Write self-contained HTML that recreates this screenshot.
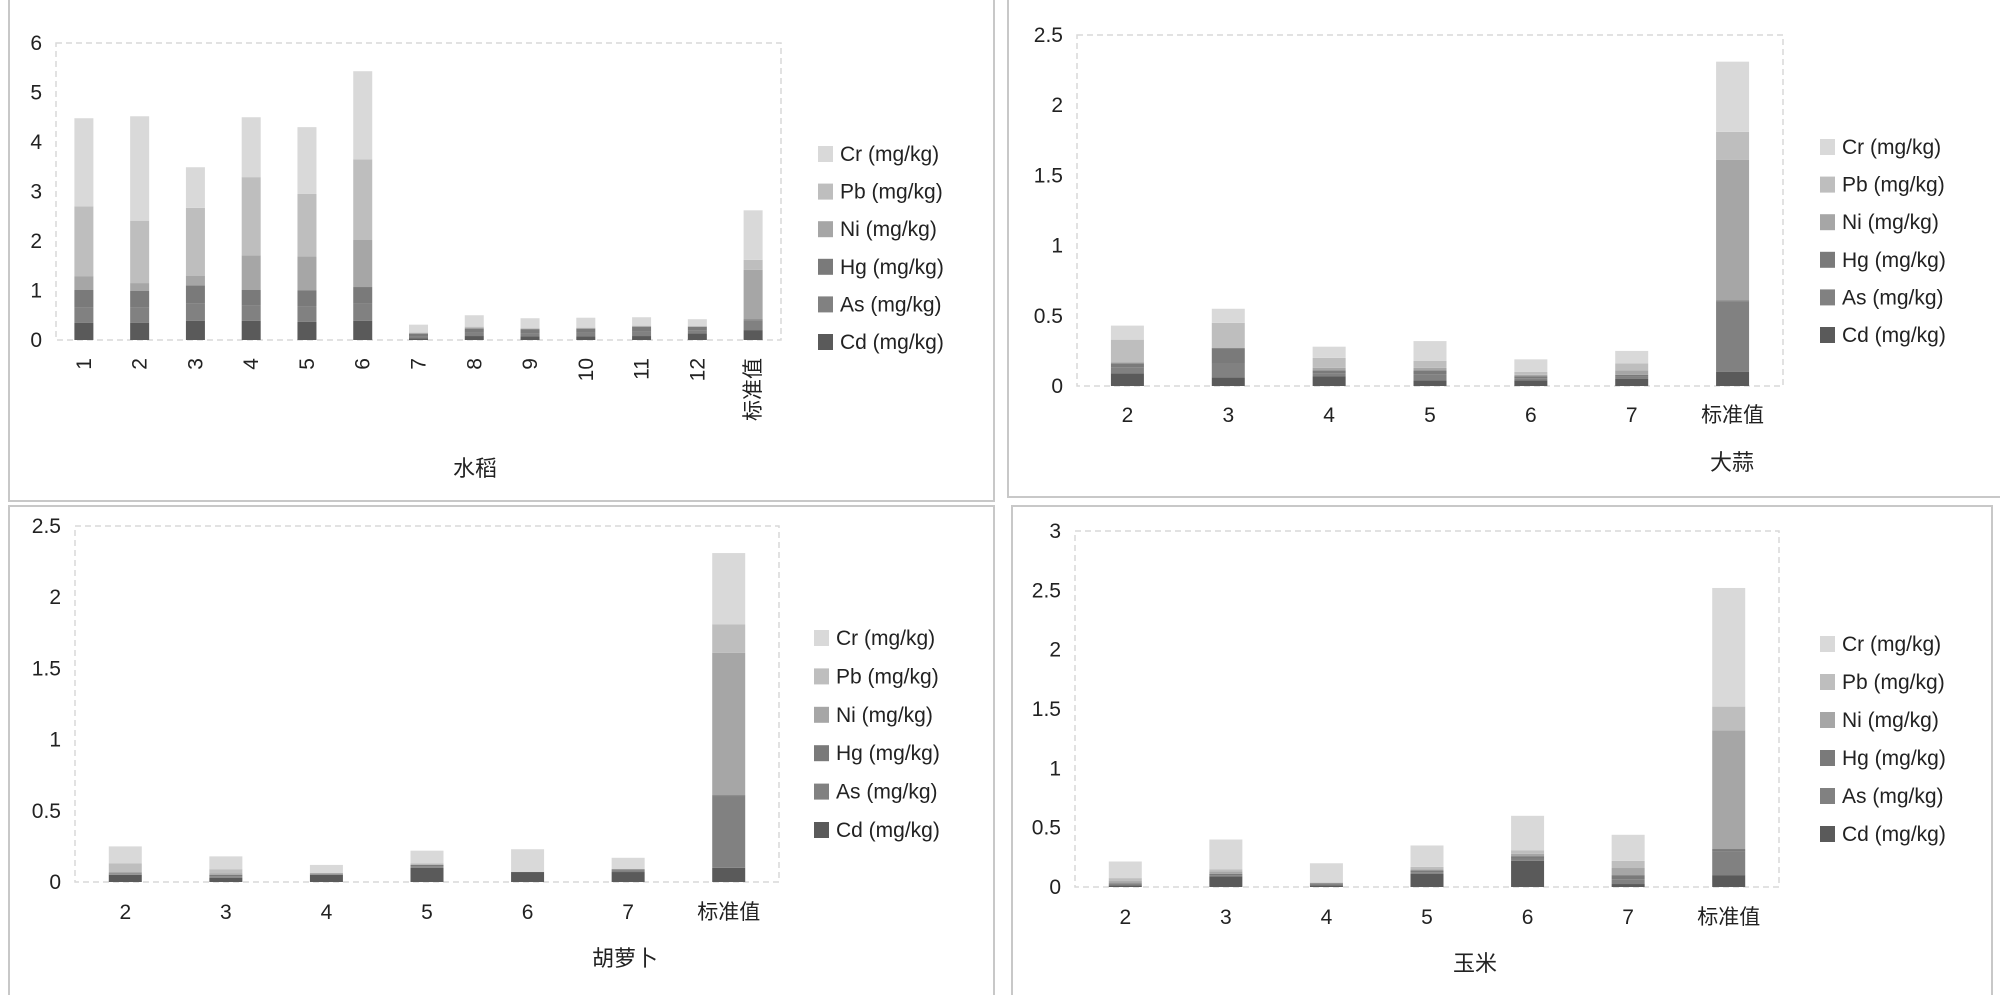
<!DOCTYPE html>
<html><head><meta charset="utf-8">
<style>
html,body{margin:0;padding:0;background:#fff;}
svg{display:block;font-family:"Liberation Sans","Noto Sans CJK SC",sans-serif;}
</style></head>
<body>
<svg id="chart" width="2000" height="995" viewBox="0 0 2000 995" xmlns="http://www.w3.org/2000/svg">
<rect x="0" y="0" width="2000" height="995" fill="#fff"/>
<rect x="9" y="-2" width="985" height="503" fill="none" stroke="#c8c8c8" stroke-width="2"/>
<rect x="1008" y="-2" width="1000" height="499" fill="none" stroke="#c8c8c8" stroke-width="2"/>
<rect x="9" y="506" width="985" height="495" fill="none" stroke="#c8c8c8" stroke-width="2"/>
<rect x="1012" y="506" width="980" height="495" fill="none" stroke="#c8c8c8" stroke-width="2"/>
</svg>
<script>
const seriesNames = ["Cd (mg/kg)","As (mg/kg)","Hg (mg/kg)","Ni (mg/kg)","Pb (mg/kg)","Cr (mg/kg)"];
const seriesColors = ["#5a5a5a","#818181","#7a7a7a","#a6a6a6","#bebebe","#d9d9d9"];

const riceCats = ["1","2","3","4","5","6","7","8","9","10","11","12","标准值"];
const riceCd = [0.35,0.35,0.39,0.39,0.37,0.39,0.03,0.08,0.07,0.07,0.08,0.13,0.2];
const riceAs = [0.30,0.30,0.35,0.30,0.30,0.34,0.05,0.07,0.07,0.08,0.09,0.07,0.2];
const riceHg = [0.36,0.34,0.36,0.32,0.33,0.34,0.05,0.08,0.08,0.08,0.10,0.07,0.02];
const riceNi = [0.28,0.16,0.20,0.70,0.69,0.95,0.00,0.02,0.01,0.01,0.01,0.00,1.0];
const ricePb = [1.41,1.26,1.37,1.58,1.26,1.63,0.02,0.02,0.01,0.01,0.01,0.01,0.2];
const riceCr = [1.78,2.11,0.82,1.21,1.35,1.78,0.16,0.23,0.20,0.20,0.17,0.14,1.0];
const riceTicks = [0,1,2,3,4,5,6];

const garlicCats = ["2","3","4","5","6","7","标准值"];
const garlicCd = [0.09,0.06,0.07,0.04,0.04,0.05,0.1];
const garlicAs = [0.04,0.10,0.02,0.04,0.015,0.015,0.5];
const garlicHg = [0.03,0.11,0.02,0.03,0.015,0.015,0.01];
const garlicNi = [0.01,0.00,0.02,0.02,0.01,0.03,1.0];
const garlicPb = [0.16,0.18,0.07,0.05,0.02,0.05,0.2];
const garlicCr = [0.10,0.10,0.08,0.14,0.09,0.09,0.5];
const garlicTicks = [0,0.5,1,1.5,2,2.5];

const carrotCats = ["2","3","4","5","6","7","标准值"];
const carrotCd = [0.05,0.03,0.05,0.10,0.07,0.07,0.1];
const carrotAs = [0.005,0.01,0.005,0.01,0.0,0.01,0.5];
const carrotHg = [0.005,0.01,0.005,0.01,0.0,0.01,0.01];
const carrotNi = [0.01,0.01,0.0,0.005,0.0,0.0,1.0];
const carrotPb = [0.06,0.03,0.0,0.005,0.0,0.0,0.2];
const carrotCr = [0.12,0.09,0.06,0.09,0.16,0.08,0.5];
const carrotTicks = [0,0.5,1,1.5,2,2.5];

const cornCats = ["2","3","4","5","6","7","标准值"];
const cornCd = [0.015,0.09,0.015,0.11,0.22,0.025,0.1];
const cornAs = [0.01,0.01,0.01,0.015,0.02,0.04,0.2];
const cornHg = [0.005,0.01,0.005,0.015,0.02,0.035,0.02];
const cornNi = [0.02,0.02,0.005,0.01,0.02,0.06,1.0];
const cornPb = [0.025,0.02,0.005,0.02,0.03,0.06,0.2];
const cornCr = [0.14,0.25,0.16,0.18,0.29,0.22,1.0];
const cornTicks = [0,0.5,1,1.5,2,2.5,3];

const svg = document.getElementById('chart');
const NS = "http://www.w3.org/2000/svg";
function mk(tag, attrs, parent){
  const e = document.createElementNS(NS, tag);
  for (const k in attrs) e.setAttribute(k, attrs[k]);
  (parent||svg).appendChild(e);
  return e;
}

function drawPanel(cfg){
  const g = mk('g', {});
  
  
  const yMax = cfg.ticks[cfg.ticks.length-1];
  const yS = v => cfg.zero - (cfg.zero - cfg.top) * v / yMax;
  const n = cfg.cats.length;
  const step = (cfg.right - cfg.left) / n;
  const xS = i => cfg.left + step * (i + 0.5);
  const frame = mk('rect', {x:cfg.left, y:cfg.top, width:cfg.right-cfg.left, height:cfg.zero-cfg.top, fill:'none', stroke:'#d9d9d9', 'stroke-width':1.5, 'stroke-dasharray':'6,4'}, g);
  
  
  cfg.ticks.forEach(t => {
    const tx = mk('text', {x:cfg.left-14, y:yS(t)+7, 'text-anchor':'end', 'font-size':21, fill:'#222'}, g);
    tx.textContent = String(t);
    
    
  });
  cfg.cats.forEach((c, i) => {
    let acc = 0;
    cfg.series.forEach((arr, s) => {
      const v = arr[i];
      const y0 = yS(acc), y1 = yS(acc + v);
      acc += v;
      if (v <= 0) return;
      const r = mk('rect', {x:xS(i)-cfg.bw/2, y:y1, width:cfg.bw, height:Math.max(0,y0-y1), fill:seriesColors[s]}, g);
      
      
    });
    let tl;
    if (cfg.rotate){
      tl = mk('text', {x:0, y:0, 'text-anchor':'end', 'font-size':21, fill:'#222', transform:`translate(${xS(i)+7},${cfg.labelY}) rotate(-90)`}, g);
    } else {
      tl = mk('text', {x:xS(i), y:cfg.labelY, 'text-anchor':'middle', 'font-size':21, fill:'#222'}, g);
    }
    tl.textContent = c;
    
    
  });
  const tt = mk('text', {x:cfg.titleX, y:cfg.titleY+8, 'text-anchor':'middle', 'font-size':22, fill:'#222'}, g);
  tt.textContent = cfg.title;
  
  
  for (let s = 5; s >= 0; s--){
    const row = 5 - s;
    const ly = cfg.legY + row * cfg.legStep;
    const sw = mk('rect', {x:cfg.legX, y:ly-8, width:15, height:16, fill:seriesColors[s]}, g);
    
    
    const lt = mk('text', {x:cfg.legX+22, y:ly+7, 'font-size':21, fill:'#222'}, g);
    lt.textContent = seriesNames[s];
    
    
  }
}

drawPanel({name:'rice', title:'水稻', cats:riceCats, series:[riceCd,riceAs,riceHg,riceNi,ricePb,riceCr], ticks:riceTicks,
  left:56, right:781, top:43, zero:340, bw:19, rotate:true, labelY:358, titleX:475, titleY:468, legX:818, legY:154, legStep:37.6});
drawPanel({name:'garlic', title:'大蒜', cats:garlicCats, series:[garlicCd,garlicAs,garlicHg,garlicNi,garlicPb,garlicCr], ticks:garlicTicks,
  left:1077, right:1783, top:35, zero:386, bw:33, rotate:false, labelY:422, titleX:1732, titleY:462, legX:1820, legY:147, legStep:37.6});
drawPanel({name:'carrot', title:'胡萝卜', cats:carrotCats, series:[carrotCd,carrotAs,carrotHg,carrotNi,carrotPb,carrotCr], ticks:carrotTicks,
  left:75, right:779, top:526, zero:882, bw:33, rotate:false, labelY:919, titleX:625, titleY:958, legX:814, legY:638, legStep:38.4});
drawPanel({name:'corn', title:'玉米', cats:cornCats, series:[cornCd,cornAs,cornHg,cornNi,cornPb,cornCr], ticks:cornTicks,
  left:1075, right:1779, top:531, zero:887, bw:33, rotate:false, labelY:924, titleX:1475, titleY:963, legX:1820, legY:644, legStep:38});
</script>
</body></html>
